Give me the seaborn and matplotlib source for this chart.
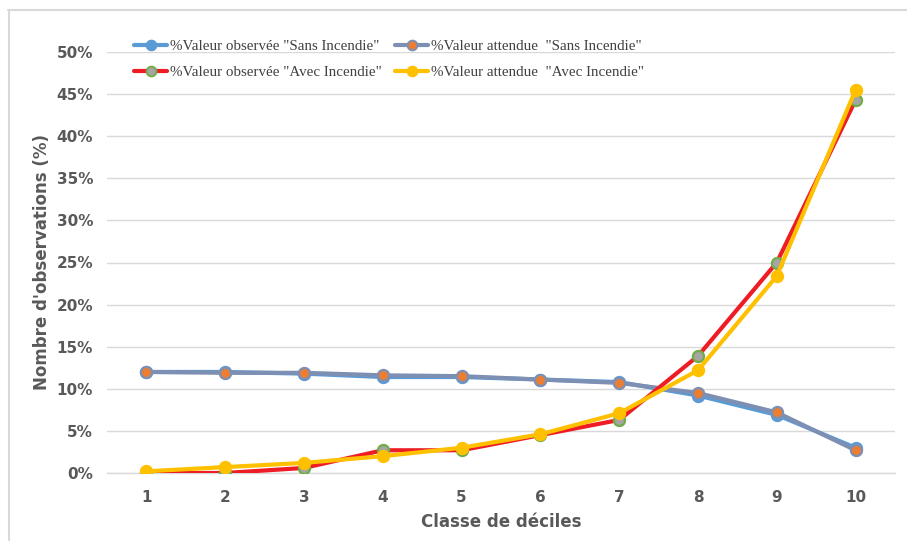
import matplotlib
matplotlib.use("Agg")
import matplotlib.pyplot as plt
from matplotlib.lines import Line2D
from matplotlib.ticker import PercentFormatter
import pandas as pd
import seaborn as sns

# Decile classes and the share of observations per class
deciles = [1, 2, 3, 4, 5, 6, 7, 8, 9, 10]
obs_sans = [12.0, 12.0, 11.8, 11.4, 11.4, 11.1, 10.8, 9.2, 6.9, 3.0]
att_sans = [12.0, 11.9, 11.9, 11.6, 11.5, 11.1, 10.7, 9.5, 7.2, 2.7]
obs_avec = [0.0, 0.0, 0.6, 2.7, 2.7, 4.5, 6.3, 13.9, 25.0, 44.3]
att_avec = [0.2, 0.7, 1.2, 2.0, 3.0, 4.6, 7.1, 12.2, 23.4, 45.5]

labels = [
    '%Valeur observée "Sans Incendie"',
    '%Valeur attendue  "Sans Incendie"',
    '%Valeur observée "Avec Incendie"',
    '%Valeur attendue  "Avec Incendie"',
]

series = [
    (obs_sans, "#5B9BD5", "#5B9BD5", "#5B9BD5"),
    (att_sans, "#7D90B4", "#ED7D31", "#7D90B4"),
    (obs_avec, "#EE1C25", "#A5A5A5", "#70AD47"),
    (att_avec, "#FFC000", "#FFC000", "#FFC000"),
]

sns.set_theme(style="white")

fig = plt.figure(figsize=(9.07, 5.41), dpi=100)
ax = fig.add_axes([107 / 907, (541 - 473) / 541, (895 - 107) / 907, (473 - 52) / 541])

handles = []
for (vals, lc, mfc, mec), lab in zip(series, labels):
    df = pd.DataFrame({"decile": deciles, "pct": [v / 100 for v in vals]})
    sns.lineplot(data=df, x="decile", y="pct", ax=ax, color=lc, linewidth=3.0,
                 marker="o", markersize=8, markerfacecolor=mfc,
                 markeredgecolor=mec, markeredgewidth=1.6, zorder=3)
    handles.append(Line2D([], [], color=lc, linewidth=3.0, marker="o", markersize=7,
                          markerfacecolor=mfc, markeredgecolor=mec, markeredgewidth=1.4))

ax.set_xlim(0.5, 10.5)
ax.set_ylim(0, 0.5)
ax.set_xticks(deciles)
ax.set_yticks([i * 0.05 for i in range(11)])
ax.yaxis.set_major_formatter(PercentFormatter(1.0, decimals=0))

ax.grid(axis="y", color="#D9D9D9", linewidth=1.0)
ax.grid(axis="x", visible=False)
for side in ["top", "right", "left"]:
    ax.spines[side].set_visible(False)
ax.spines["bottom"].set_color("#D9D9D9")
ax.spines["bottom"].set_linewidth(1.0)
ax.tick_params(axis="both", length=0, labelsize=11, labelcolor="#595959")
for t in ax.get_xticklabels() + ax.get_yticklabels():
    t.set_fontweight("bold")
ax.tick_params(axis="y", pad=10)
ax.tick_params(axis="x", pad=12)

ax.set_xlabel("Classe de déciles", fontsize=12, fontweight="bold", color="#595959", labelpad=6)
ax.set_ylabel("Nombre d'observations (%)", fontsize=12, fontweight="bold", color="#595959", labelpad=4)

# Legend filled row by row: "Sans Incendie" pair on top, "Avec Incendie" pair below
order = [0, 2, 1, 3]
leg = fig.legend([handles[i] for i in order], [labels[i] for i in order], ncol=2,
                 loc="upper left", bbox_to_anchor=(128 / 907, 1 - 34 / 541), frameon=False,
                 prop={"family": "Liberation Serif", "size": 10.8},
                 handlelength=2.2, handletextpad=0.2, columnspacing=0.9,
                 labelspacing=0.8, borderaxespad=0)
for t in leg.get_texts():
    t.set_color("#404040")

# Light frame around the chart area
fig.add_artist(Line2D([8 / 907, 1.0], [1 - 10 / 541, 1 - 10 / 541],
                      transform=fig.transFigure, color="#D9D9D9", linewidth=1.5))
fig.add_artist(Line2D([9 / 907, 9 / 907], [0, 1 - 10 / 541],
                      transform=fig.transFigure, color="#D9D9D9", linewidth=1.5))

fig.savefig("out.png", dpi=100)
